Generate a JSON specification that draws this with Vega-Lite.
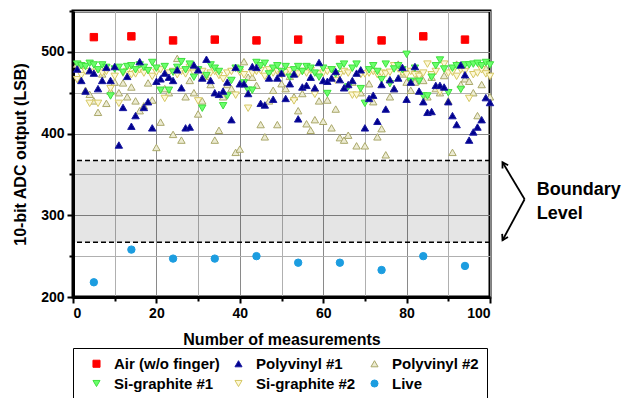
{
  "$schema": "https://vega.github.io/schema/vega-lite/v6.json",
  "autosize": "none",
  "padding": {"left": 73, "top": 11, "right": 137, "bottom": 101},
  "width": 417,
  "height": 286,
  "background": "white",
  "config": {
    "view": {"stroke": "black", "strokeWidth": 3},
    "axis": {
      "labelFont": "Liberation Sans", "labelFontWeight": "bold", "labelFontSize": 14, "labelColor": "black",
      "titleFont": "Liberation Sans", "titleFontWeight": "bold", "titleFontSize": 16, "titleColor": "black",
      "domainColor": "black", "domainWidth": 3, "tickColor": "black", "tickWidth": 2, "gridWidth": 1
    }
  },
  "layer": [
    {
      "data": {"values": [{"lo": 267, "hi": 367, "a": 0, "b": 100}]},
      "mark": {"type": "rect", "fill": "black", "opacity": 0.1},
      "encoding": {
        "x": {"field": "a", "type": "quantitative", "scale": {"domain": [0, 100], "nice": false},
          "axis": {"title": "Number of measurements", "values": [0,10,20,30,40,50,60,70,80,90,100],
            "labelExpr": "datum.value % 20 == 0 ? datum.label : ''", "labelPadding": 3, "titlePadding": 11,
            "grid": true,
            "gridColor": {"condition": {"test": "datum.value % 20 != 0", "value": "#b0b0b0"}, "value": "#8a8a8a"},
            "tickSize": {"condition": {"test": "datum.value % 20 != 0", "value": 4}, "value": 6},
            "encode": {"grid": {"update": {"strokeDash": {"signal": "datum.value % 20 != 0 ? [2, 2] : []"}}}}}},
        "x2": {"field": "b"},
        "y": {"field": "lo", "type": "quantitative", "scale": {"domain": [200, 550], "nice": false},
          "axis": {"title": "10-bit ADC output (LSB)", "values": [200,250,300,350,400,450,500,550],
            "labelExpr": "datum.value % 100 == 0 ? datum.label : ''", "labelPadding": 3, "titlePadding": 12,
            "grid": true,
            "gridColor": {"condition": {"test": "datum.value % 100 != 0", "value": "#b0b0b0"}, "value": "#8a8a8a"},
            "tickSize": {"condition": {"test": "datum.value % 100 != 0", "value": 4}, "value": 6},
            "encode": {"grid": {"update": {"strokeDash": {"signal": "datum.value % 100 != 0 ? [2, 2] : []"}}}}}},
        "y2": {"field": "hi"}
      }
    },
    {
      "data": {"values": [{"v": 267}, {"v": 367}]},
      "mark": {"type": "rule", "color": "black", "strokeWidth": 1.5, "strokeDash": [5, 3]},
      "encoding": {"y": {"field": "v", "type": "quantitative"}}
    },
    {
      "data": {"values": [
        {"s":"Polyvinyl #2","m":1,"v":485},{"s":"Polyvinyl #2","m":2,"v":484},{"s":"Polyvinyl #2","m":3,"v":453},{"s":"Polyvinyl #2","m":4,"v":448},{"s":"Polyvinyl #2","m":5,"v":440},{"s":"Polyvinyl #2","m":6,"v":426},{"s":"Polyvinyl #2","m":7,"v":473},{"s":"Polyvinyl #2","m":8,"v":437},{"s":"Polyvinyl #2","m":9,"v":452},{"s":"Polyvinyl #2","m":10,"v":463},
        {"s":"Polyvinyl #2","m":11,"v":450},{"s":"Polyvinyl #2","m":12,"v":462},{"s":"Polyvinyl #2","m":13,"v":445},{"s":"Polyvinyl #2","m":14,"v":457},{"s":"Polyvinyl #2","m":15,"v":440},{"s":"Polyvinyl #2","m":16,"v":428},{"s":"Polyvinyl #2","m":17,"v":434},{"s":"Polyvinyl #2","m":18,"v":462},{"s":"Polyvinyl #2","m":19,"v":441},{"s":"Polyvinyl #2","m":20,"v":383},
        {"s":"Polyvinyl #2","m":21,"v":414},{"s":"Polyvinyl #2","m":22,"v":455},{"s":"Polyvinyl #2","m":23,"v":450},{"s":"Polyvinyl #2","m":24,"v":399},{"s":"Polyvinyl #2","m":25,"v":492},{"s":"Polyvinyl #2","m":26,"v":392},{"s":"Polyvinyl #2","m":27,"v":445},{"s":"Polyvinyl #2","m":28,"v":465},{"s":"Polyvinyl #2","m":29,"v":450},{"s":"Polyvinyl #2","m":30,"v":424},
        {"s":"Polyvinyl #2","m":31,"v":440},{"s":"Polyvinyl #2","m":32,"v":470},{"s":"Polyvinyl #2","m":33,"v":460},{"s":"Polyvinyl #2","m":34,"v":392},{"s":"Polyvinyl #2","m":35,"v":404},{"s":"Polyvinyl #2","m":36,"v":445},{"s":"Polyvinyl #2","m":37,"v":460},{"s":"Polyvinyl #2","m":38,"v":455},{"s":"Polyvinyl #2","m":39,"v":377},{"s":"Polyvinyl #2","m":40,"v":381},
        {"s":"Polyvinyl #2","m":41,"v":488},{"s":"Polyvinyl #2","m":42,"v":469},{"s":"Polyvinyl #2","m":43,"v":469},{"s":"Polyvinyl #2","m":44,"v":459},{"s":"Polyvinyl #2","m":45,"v":411},{"s":"Polyvinyl #2","m":46,"v":396},{"s":"Polyvinyl #2","m":47,"v":440},{"s":"Polyvinyl #2","m":48,"v":453},{"s":"Polyvinyl #2","m":49,"v":411},{"s":"Polyvinyl #2","m":50,"v":461},
        {"s":"Polyvinyl #2","m":51,"v":455},{"s":"Polyvinyl #2","m":52,"v":470},{"s":"Polyvinyl #2","m":53,"v":445},{"s":"Polyvinyl #2","m":54,"v":428},{"s":"Polyvinyl #2","m":55,"v":449},{"s":"Polyvinyl #2","m":56,"v":412},{"s":"Polyvinyl #2","m":57,"v":404},{"s":"Polyvinyl #2","m":58,"v":417},{"s":"Polyvinyl #2","m":59,"v":440},{"s":"Polyvinyl #2","m":60,"v":415},
        {"s":"Polyvinyl #2","m":61,"v":441},{"s":"Polyvinyl #2","m":62,"v":407},{"s":"Polyvinyl #2","m":63,"v":430},{"s":"Polyvinyl #2","m":64,"v":395},{"s":"Polyvinyl #2","m":65,"v":392},{"s":"Polyvinyl #2","m":66,"v":398},{"s":"Polyvinyl #2","m":67,"v":463},{"s":"Polyvinyl #2","m":68,"v":385},{"s":"Polyvinyl #2","m":69,"v":450},{"s":"Polyvinyl #2","m":70,"v":385},
        {"s":"Polyvinyl #2","m":71,"v":461},{"s":"Polyvinyl #2","m":72,"v":439},{"s":"Polyvinyl #2","m":73,"v":396},{"s":"Polyvinyl #2","m":74,"v":406},{"s":"Polyvinyl #2","m":75,"v":374},{"s":"Polyvinyl #2","m":76,"v":445},{"s":"Polyvinyl #2","m":77,"v":455},{"s":"Polyvinyl #2","m":78,"v":485},{"s":"Polyvinyl #2","m":79,"v":473},{"s":"Polyvinyl #2","m":80,"v":463},
        {"s":"Polyvinyl #2","m":81,"v":453},{"s":"Polyvinyl #2","m":82,"v":463},{"s":"Polyvinyl #2","m":83,"v":473},{"s":"Polyvinyl #2","m":84,"v":465},{"s":"Polyvinyl #2","m":85,"v":445},{"s":"Polyvinyl #2","m":86,"v":469},{"s":"Polyvinyl #2","m":87,"v":455},{"s":"Polyvinyl #2","m":88,"v":450},{"s":"Polyvinyl #2","m":89,"v":471},{"s":"Polyvinyl #2","m":90,"v":440},
        {"s":"Polyvinyl #2","m":91,"v":377},{"s":"Polyvinyl #2","m":92,"v":485},{"s":"Polyvinyl #2","m":93,"v":460},{"s":"Polyvinyl #2","m":94,"v":467},{"s":"Polyvinyl #2","m":95,"v":464},{"s":"Polyvinyl #2","m":96,"v":450},{"s":"Polyvinyl #2","m":97,"v":422},{"s":"Polyvinyl #2","m":98,"v":460},{"s":"Polyvinyl #2","m":99,"v":480},{"s":"Polyvinyl #2","m":100,"v":445},
        {"s":"Si-graphite #2","m":1,"v":466},{"s":"Si-graphite #2","m":2,"v":471},{"s":"Si-graphite #2","m":3,"v":476},{"s":"Si-graphite #2","m":4,"v":437},{"s":"Si-graphite #2","m":5,"v":475},{"s":"Si-graphite #2","m":6,"v":437},{"s":"Si-graphite #2","m":7,"v":474},{"s":"Si-graphite #2","m":8,"v":476},{"s":"Si-graphite #2","m":9,"v":455},{"s":"Si-graphite #2","m":10,"v":470},
        {"s":"Si-graphite #2","m":11,"v":437},{"s":"Si-graphite #2","m":12,"v":474},{"s":"Si-graphite #2","m":13,"v":476},{"s":"Si-graphite #2","m":14,"v":472},{"s":"Si-graphite #2","m":15,"v":473},{"s":"Si-graphite #2","m":16,"v":478},{"s":"Si-graphite #2","m":17,"v":474},{"s":"Si-graphite #2","m":18,"v":477},{"s":"Si-graphite #2","m":19,"v":470},{"s":"Si-graphite #2","m":20,"v":475},
        {"s":"Si-graphite #2","m":21,"v":478},{"s":"Si-graphite #2","m":22,"v":443},{"s":"Si-graphite #2","m":23,"v":474},{"s":"Si-graphite #2","m":24,"v":476},{"s":"Si-graphite #2","m":25,"v":472},{"s":"Si-graphite #2","m":26,"v":476},{"s":"Si-graphite #2","m":27,"v":473},{"s":"Si-graphite #2","m":28,"v":481},{"s":"Si-graphite #2","m":29,"v":474},{"s":"Si-graphite #2","m":30,"v":440},
        {"s":"Si-graphite #2","m":31,"v":476},{"s":"Si-graphite #2","m":32,"v":470},{"s":"Si-graphite #2","m":33,"v":474},{"s":"Si-graphite #2","m":34,"v":476},{"s":"Si-graphite #2","m":35,"v":471},{"s":"Si-graphite #2","m":36,"v":467},{"s":"Si-graphite #2","m":37,"v":474},{"s":"Si-graphite #2","m":38,"v":476},{"s":"Si-graphite #2","m":39,"v":447},{"s":"Si-graphite #2","m":40,"v":475},
        {"s":"Si-graphite #2","m":41,"v":472},{"s":"Si-graphite #2","m":42,"v":431},{"s":"Si-graphite #2","m":43,"v":474},{"s":"Si-graphite #2","m":44,"v":476},{"s":"Si-graphite #2","m":45,"v":477},{"s":"Si-graphite #2","m":46,"v":470},{"s":"Si-graphite #2","m":47,"v":478},{"s":"Si-graphite #2","m":48,"v":474},{"s":"Si-graphite #2","m":49,"v":476},{"s":"Si-graphite #2","m":50,"v":472},
        {"s":"Si-graphite #2","m":51,"v":475},{"s":"Si-graphite #2","m":52,"v":477},{"s":"Si-graphite #2","m":53,"v":440},{"s":"Si-graphite #2","m":54,"v":473},{"s":"Si-graphite #2","m":55,"v":476},{"s":"Si-graphite #2","m":56,"v":474},{"s":"Si-graphite #2","m":57,"v":477},{"s":"Si-graphite #2","m":58,"v":448},{"s":"Si-graphite #2","m":59,"v":473},{"s":"Si-graphite #2","m":60,"v":474},
        {"s":"Si-graphite #2","m":61,"v":476},{"s":"Si-graphite #2","m":62,"v":478},{"s":"Si-graphite #2","m":63,"v":465},{"s":"Si-graphite #2","m":64,"v":472},{"s":"Si-graphite #2","m":65,"v":476},{"s":"Si-graphite #2","m":66,"v":474},{"s":"Si-graphite #2","m":67,"v":447},{"s":"Si-graphite #2","m":68,"v":447},{"s":"Si-graphite #2","m":69,"v":472},{"s":"Si-graphite #2","m":70,"v":473},
        {"s":"Si-graphite #2","m":71,"v":474},{"s":"Si-graphite #2","m":72,"v":476},{"s":"Si-graphite #2","m":73,"v":472},{"s":"Si-graphite #2","m":74,"v":474},{"s":"Si-graphite #2","m":75,"v":473},{"s":"Si-graphite #2","m":76,"v":475},{"s":"Si-graphite #2","m":77,"v":483},{"s":"Si-graphite #2","m":78,"v":479},{"s":"Si-graphite #2","m":79,"v":474},{"s":"Si-graphite #2","m":80,"v":472},
        {"s":"Si-graphite #2","m":81,"v":476},{"s":"Si-graphite #2","m":82,"v":472},{"s":"Si-graphite #2","m":83,"v":470},{"s":"Si-graphite #2","m":84,"v":474},{"s":"Si-graphite #2","m":85,"v":485},{"s":"Si-graphite #2","m":86,"v":472},{"s":"Si-graphite #2","m":87,"v":476},{"s":"Si-graphite #2","m":88,"v":451},{"s":"Si-graphite #2","m":89,"v":485},{"s":"Si-graphite #2","m":90,"v":474},
        {"s":"Si-graphite #2","m":91,"v":475},{"s":"Si-graphite #2","m":92,"v":470},{"s":"Si-graphite #2","m":93,"v":478},{"s":"Si-graphite #2","m":94,"v":476},{"s":"Si-graphite #2","m":95,"v":443},{"s":"Si-graphite #2","m":96,"v":472},{"s":"Si-graphite #2","m":97,"v":474},{"s":"Si-graphite #2","m":98,"v":478},{"s":"Si-graphite #2","m":99,"v":473},{"s":"Si-graphite #2","m":100,"v":470},
        {"s":"Si-graphite #1","m":1,"v":485},{"s":"Si-graphite #1","m":2,"v":483},{"s":"Si-graphite #1","m":3,"v":482},{"s":"Si-graphite #1","m":4,"v":486},{"s":"Si-graphite #1","m":5,"v":484},{"s":"Si-graphite #1","m":6,"v":478},{"s":"Si-graphite #1","m":7,"v":484},{"s":"Si-graphite #1","m":8,"v":481},{"s":"Si-graphite #1","m":9,"v":446},{"s":"Si-graphite #1","m":10,"v":479},
        {"s":"Si-graphite #1","m":11,"v":481},{"s":"Si-graphite #1","m":12,"v":475},{"s":"Si-graphite #1","m":13,"v":482},{"s":"Si-graphite #1","m":14,"v":483},{"s":"Si-graphite #1","m":15,"v":478},{"s":"Si-graphite #1","m":16,"v":484},{"s":"Si-graphite #1","m":17,"v":481},{"s":"Si-graphite #1","m":18,"v":477},{"s":"Si-graphite #1","m":19,"v":487},{"s":"Si-graphite #1","m":20,"v":480},
        {"s":"Si-graphite #1","m":21,"v":453},{"s":"Si-graphite #1","m":22,"v":482},{"s":"Si-graphite #1","m":23,"v":453},{"s":"Si-graphite #1","m":24,"v":475},{"s":"Si-graphite #1","m":25,"v":481},{"s":"Si-graphite #1","m":26,"v":488},{"s":"Si-graphite #1","m":27,"v":478},{"s":"Si-graphite #1","m":28,"v":485},{"s":"Si-graphite #1","m":29,"v":469},{"s":"Si-graphite #1","m":30,"v":478},
        {"s":"Si-graphite #1","m":31,"v":431},{"s":"Si-graphite #1","m":32,"v":471},{"s":"Si-graphite #1","m":33,"v":484},{"s":"Si-graphite #1","m":34,"v":480},{"s":"Si-graphite #1","m":35,"v":476},{"s":"Si-graphite #1","m":36,"v":434},{"s":"Si-graphite #1","m":37,"v":446},{"s":"Si-graphite #1","m":38,"v":465},{"s":"Si-graphite #1","m":39,"v":480},{"s":"Si-graphite #1","m":40,"v":478},
        {"s":"Si-graphite #1","m":41,"v":462},{"s":"Si-graphite #1","m":42,"v":453},{"s":"Si-graphite #1","m":43,"v":453},{"s":"Si-graphite #1","m":44,"v":487},{"s":"Si-graphite #1","m":45,"v":483},{"s":"Si-graphite #1","m":46,"v":486},{"s":"Si-graphite #1","m":47,"v":473},{"s":"Si-graphite #1","m":48,"v":480},{"s":"Si-graphite #1","m":49,"v":483},{"s":"Si-graphite #1","m":50,"v":476},
        {"s":"Si-graphite #1","m":51,"v":482},{"s":"Si-graphite #1","m":52,"v":469},{"s":"Si-graphite #1","m":53,"v":478},{"s":"Si-graphite #1","m":54,"v":482},{"s":"Si-graphite #1","m":55,"v":476},{"s":"Si-graphite #1","m":56,"v":482},{"s":"Si-graphite #1","m":57,"v":480},{"s":"Si-graphite #1","m":58,"v":474},{"s":"Si-graphite #1","m":59,"v":469},{"s":"Si-graphite #1","m":60,"v":480},
        {"s":"Si-graphite #1","m":61,"v":449},{"s":"Si-graphite #1","m":62,"v":478},{"s":"Si-graphite #1","m":63,"v":473},{"s":"Si-graphite #1","m":64,"v":482},{"s":"Si-graphite #1","m":65,"v":485},{"s":"Si-graphite #1","m":66,"v":457},{"s":"Si-graphite #1","m":67,"v":480},{"s":"Si-graphite #1","m":68,"v":485},{"s":"Si-graphite #1","m":69,"v":455},{"s":"Si-graphite #1","m":70,"v":437},
        {"s":"Si-graphite #1","m":71,"v":478},{"s":"Si-graphite #1","m":72,"v":483},{"s":"Si-graphite #1","m":73,"v":476},{"s":"Si-graphite #1","m":74,"v":466},{"s":"Si-graphite #1","m":75,"v":485},{"s":"Si-graphite #1","m":76,"v":461},{"s":"Si-graphite #1","m":77,"v":479},{"s":"Si-graphite #1","m":78,"v":483},{"s":"Si-graphite #1","m":79,"v":478},{"s":"Si-graphite #1","m":80,"v":497},
        {"s":"Si-graphite #1","m":81,"v":464},{"s":"Si-graphite #1","m":82,"v":480},{"s":"Si-graphite #1","m":83,"v":464},{"s":"Si-graphite #1","m":84,"v":446},{"s":"Si-graphite #1","m":85,"v":446},{"s":"Si-graphite #1","m":86,"v":469},{"s":"Si-graphite #1","m":87,"v":483},{"s":"Si-graphite #1","m":88,"v":490},{"s":"Si-graphite #1","m":89,"v":479},{"s":"Si-graphite #1","m":90,"v":450},
        {"s":"Si-graphite #1","m":91,"v":480},{"s":"Si-graphite #1","m":92,"v":483},{"s":"Si-graphite #1","m":93,"v":454},{"s":"Si-graphite #1","m":94,"v":484},{"s":"Si-graphite #1","m":95,"v":484},{"s":"Si-graphite #1","m":96,"v":485},{"s":"Si-graphite #1","m":97,"v":486},{"s":"Si-graphite #1","m":98,"v":483},{"s":"Si-graphite #1","m":99,"v":487},{"s":"Si-graphite #1","m":100,"v":484},
        {"s":"Polyvinyl #1","m":1,"v":479},{"s":"Polyvinyl #1","m":2,"v":465},{"s":"Polyvinyl #1","m":3,"v":452},{"s":"Polyvinyl #1","m":4,"v":477},{"s":"Polyvinyl #1","m":5,"v":474},{"s":"Polyvinyl #1","m":6,"v":455},{"s":"Polyvinyl #1","m":7,"v":465},{"s":"Polyvinyl #1","m":8,"v":481},{"s":"Polyvinyl #1","m":9,"v":465},{"s":"Polyvinyl #1","m":10,"v":482},
        {"s":"Polyvinyl #1","m":11,"v":386},{"s":"Polyvinyl #1","m":12,"v":432},{"s":"Polyvinyl #1","m":13,"v":470},{"s":"Polyvinyl #1","m":14,"v":409},{"s":"Polyvinyl #1","m":15,"v":422},{"s":"Polyvinyl #1","m":16,"v":488},{"s":"Polyvinyl #1","m":17,"v":432},{"s":"Polyvinyl #1","m":18,"v":439},{"s":"Polyvinyl #1","m":19,"v":407},{"s":"Polyvinyl #1","m":20,"v":464},
        {"s":"Polyvinyl #1","m":21,"v":467},{"s":"Polyvinyl #1","m":22,"v":474},{"s":"Polyvinyl #1","m":23,"v":469},{"s":"Polyvinyl #1","m":24,"v":465},{"s":"Polyvinyl #1","m":25,"v":478},{"s":"Polyvinyl #1","m":26,"v":456},{"s":"Polyvinyl #1","m":27,"v":407},{"s":"Polyvinyl #1","m":28,"v":408},{"s":"Polyvinyl #1","m":29,"v":484},{"s":"Polyvinyl #1","m":30,"v":478},
        {"s":"Polyvinyl #1","m":31,"v":468},{"s":"Polyvinyl #1","m":32,"v":491},{"s":"Polyvinyl #1","m":33,"v":465},{"s":"Polyvinyl #1","m":34,"v":450},{"s":"Polyvinyl #1","m":35,"v":448},{"s":"Polyvinyl #1","m":36,"v":452},{"s":"Polyvinyl #1","m":37,"v":463},{"s":"Polyvinyl #1","m":38,"v":417},{"s":"Polyvinyl #1","m":39,"v":481},{"s":"Polyvinyl #1","m":40,"v":461},
        {"s":"Polyvinyl #1","m":41,"v":461},{"s":"Polyvinyl #1","m":42,"v":449},{"s":"Polyvinyl #1","m":43,"v":482},{"s":"Polyvinyl #1","m":44,"v":481},{"s":"Polyvinyl #1","m":45,"v":437},{"s":"Polyvinyl #1","m":46,"v":435},{"s":"Polyvinyl #1","m":47,"v":468},{"s":"Polyvinyl #1","m":48,"v":442},{"s":"Polyvinyl #1","m":49,"v":468},{"s":"Polyvinyl #1","m":50,"v":474},
        {"s":"Polyvinyl #1","m":51,"v":443},{"s":"Polyvinyl #1","m":52,"v":461},{"s":"Polyvinyl #1","m":53,"v":473},{"s":"Polyvinyl #1","m":54,"v":418},{"s":"Polyvinyl #1","m":55,"v":457},{"s":"Polyvinyl #1","m":56,"v":459},{"s":"Polyvinyl #1","m":57,"v":469},{"s":"Polyvinyl #1","m":58,"v":456},{"s":"Polyvinyl #1","m":59,"v":487},{"s":"Polyvinyl #1","m":60,"v":465},
        {"s":"Polyvinyl #1","m":61,"v":464},{"s":"Polyvinyl #1","m":62,"v":468},{"s":"Polyvinyl #1","m":63,"v":476},{"s":"Polyvinyl #1","m":64,"v":466},{"s":"Polyvinyl #1","m":65,"v":456},{"s":"Polyvinyl #1","m":66,"v":460},{"s":"Polyvinyl #1","m":67,"v":465},{"s":"Polyvinyl #1","m":68,"v":474},{"s":"Polyvinyl #1","m":69,"v":478},{"s":"Polyvinyl #1","m":70,"v":407},
        {"s":"Polyvinyl #1","m":71,"v":443},{"s":"Polyvinyl #1","m":72,"v":447},{"s":"Polyvinyl #1","m":73,"v":415},{"s":"Polyvinyl #1","m":74,"v":460},{"s":"Polyvinyl #1","m":75,"v":430},{"s":"Polyvinyl #1","m":76,"v":466},{"s":"Polyvinyl #1","m":77,"v":455},{"s":"Polyvinyl #1","m":78,"v":468},{"s":"Polyvinyl #1","m":79,"v":481},{"s":"Polyvinyl #1","m":80,"v":442},
        {"s":"Polyvinyl #1","m":81,"v":463},{"s":"Polyvinyl #1","m":82,"v":482},{"s":"Polyvinyl #1","m":83,"v":452},{"s":"Polyvinyl #1","m":84,"v":439},{"s":"Polyvinyl #1","m":85,"v":426},{"s":"Polyvinyl #1","m":86,"v":427},{"s":"Polyvinyl #1","m":87,"v":459},{"s":"Polyvinyl #1","m":88,"v":459},{"s":"Polyvinyl #1","m":89,"v":457},{"s":"Polyvinyl #1","m":90,"v":439},
        {"s":"Polyvinyl #1","m":91,"v":422},{"s":"Polyvinyl #1","m":92,"v":411},{"s":"Polyvinyl #1","m":93,"v":484},{"s":"Polyvinyl #1","m":94,"v":472},{"s":"Polyvinyl #1","m":95,"v":392},{"s":"Polyvinyl #1","m":96,"v":402},{"s":"Polyvinyl #1","m":97,"v":408},{"s":"Polyvinyl #1","m":98,"v":417},{"s":"Polyvinyl #1","m":99,"v":444},{"s":"Polyvinyl #1","m":100,"v":438},
        {"s":"Air (w/o finger)","m":5,"v":518},{"s":"Air (w/o finger)","m":14,"v":519},{"s":"Air (w/o finger)","m":24,"v":514},{"s":"Air (w/o finger)","m":34,"v":515},{"s":"Air (w/o finger)","m":44,"v":514},{"s":"Air (w/o finger)","m":54,"v":515},{"s":"Air (w/o finger)","m":64,"v":515},{"s":"Air (w/o finger)","m":74,"v":514},{"s":"Air (w/o finger)","m":84,"v":519},{"s":"Air (w/o finger)","m":94,"v":515},
        {"s":"Live","m":5,"v":218},{"s":"Live","m":14,"v":258},{"s":"Live","m":24,"v":247},{"s":"Live","m":34,"v":247},{"s":"Live","m":44,"v":250},{"s":"Live","m":54,"v":242},{"s":"Live","m":64,"v":242},{"s":"Live","m":74,"v":233},{"s":"Live","m":84,"v":250},{"s":"Live","m":94,"v":238}
      ]},
      "mark": {"type": "point", "filled": true, "size": 55, "strokeWidth": 1, "opacity": 1},
      "encoding": {
        "x": {"field": "m", "type": "quantitative"},
        "y": {"field": "v", "type": "quantitative"},
        "fill": {"field": "s", "type": "nominal",
          "scale": {"domain": ["Air (w/o finger)", "Polyvinyl #1", "Polyvinyl #2", "Si-graphite #1", "Si-graphite #2", "Live"],
            "range": ["#ff0000", "#00008f", "#ecebd2", "#6bff6b", "#fdf8d8", "#1c9de0"]},
          "legend": {"title": null, "orient": "none", "legendX": 0, "legendY": 337, "direction": "horizontal", "columns": 3,
            "strokeColor": "black", "fillColor": "white", "padding": 8, "symbolOffset": 8,
            "labelFont": "Liberation Sans", "labelFontWeight": "bold", "labelFontSize": 15, "labelColor": "black",
            "symbolSize": 50, "symbolStrokeWidth": 1, "columnPadding": 3, "rowPadding": 4, "labelOffset": 10,
            "encode": {"legend": {"update": {"strokeWidth": {"value": 2}}}}}},
        "stroke": {"field": "s", "type": "nominal",
          "scale": {"domain": ["Air (w/o finger)", "Polyvinyl #1", "Polyvinyl #2", "Si-graphite #1", "Si-graphite #2", "Live"],
            "range": ["#ff0000", "#1a1aa0", "#aaa86a", "#3fe03f", "#d6c863", "#1c9de0"]}},
        "shape": {"field": "s", "type": "nominal",
          "scale": {"domain": ["Air (w/o finger)", "Polyvinyl #1", "Polyvinyl #2", "Si-graphite #1", "Si-graphite #2", "Live"],
            "range": ["square", "triangle-up", "triangle-up", "triangle-down", "triangle-down", "circle"]}}
      }
    },
    {
      "data": {"values": [{"seg": "u", "m": 108.3, "v": 319.6}, {"seg": "u", "m": 103, "v": 365}, {"seg": "d", "m": 108.3, "v": 319.6}, {"seg": "d", "m": 103, "v": 269.4}]},
      "mark": {"type": "line", "color": "black", "strokeWidth": 1.8},
      "encoding": {"x": {"field": "m", "type": "quantitative"}, "y": {"field": "v", "type": "quantitative"}, "detail": {"field": "seg", "type": "nominal"}}
    },
    {
      "data": {"values": [{"m": 103, "v": 365}]},
      "mark": {"type": "point", "shape": "M -0.6 1 L 0 0 L 0.6 1", "filled": false, "stroke": "black", "strokeWidth": 1.8, "size": 120, "angle": 329, "opacity": 1},
      "encoding": {"x": {"field": "m", "type": "quantitative"}, "y": {"field": "v", "type": "quantitative"}}
    },
    {
      "data": {"values": [{"m": 103, "v": 269.4}]},
      "mark": {"type": "point", "shape": "M -0.6 1 L 0 0 L 0.6 1", "filled": false, "stroke": "black", "strokeWidth": 1.8, "size": 120, "angle": 208, "opacity": 1},
      "encoding": {"x": {"field": "m", "type": "quantitative"}, "y": {"field": "v", "type": "quantitative"}}
    },
    {
      "data": {"values": [{"m": 111.2, "v": 330.6, "t": "Boundary"}, {"m": 111.2, "v": 302, "t": "Level"}]},
      "mark": {"type": "text", "align": "left", "baseline": "middle", "font": "Liberation Sans", "fontWeight": "bold", "fontSize": 18, "color": "black"},
      "encoding": {"x": {"field": "m", "type": "quantitative"}, "y": {"field": "v", "type": "quantitative"}, "text": {"field": "t"}}
    }
  ]
}
